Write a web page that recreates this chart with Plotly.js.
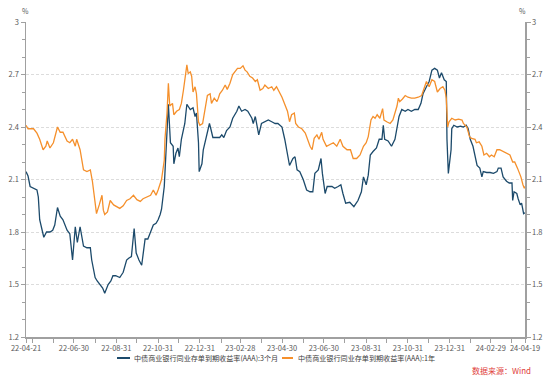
<!DOCTYPE html>
<html><head><meta charset="utf-8">
<script src="https://cdn.plot.ly/plotly-3.0.1.min.js"></script>
<style>html,body{margin:0;padding:0;background:#fff;}#chart{width:550px;height:383px;}</style>
</head><body><div id="chart"></div>
<script>
const seriesNames = ["中债商业银行同业存单到期收益率(AAA):3个月", "中债商业银行同业存单到期收益率(AAA):1年"];
const sourceText = "数据来源：Wind";
const unitText = "%";

const dates3m = ["2022-04-21","2022-04-24","2022-04-27","2022-05-01","2022-05-07","2022-05-09","2022-05-11","2022-05-14","2022-05-17","2022-05-21","2022-05-26","2022-05-30","2022-06-02","2022-06-06","2022-06-10","2022-06-14","2022-06-20","2022-06-24","2022-06-28","2022-07-02","2022-07-05","2022-07-09","2022-07-14","2022-07-19","2022-07-24","2022-07-26","2022-07-31","2022-08-03","2022-08-07","2022-08-11","2022-08-14","2022-08-19","2022-08-23","2022-08-26","2022-08-30","2022-09-05","2022-09-10","2022-09-15","2022-09-18","2022-09-22","2022-09-26","2022-09-29","2022-10-03","2022-10-07","2022-10-12","2022-10-16","2022-10-19","2022-10-24","2022-10-28","2022-10-31","2022-11-03","2022-11-05","2022-11-09","2022-11-13","2022-11-15","2022-11-18","2022-11-22","2022-11-23","2022-11-26","2022-11-29","2022-12-01","2022-12-04","2022-12-09","2022-12-12","2022-12-17","2022-12-21","2022-12-24","2022-12-26","2022-12-29","2022-12-30","2023-01-03","2023-01-05","2023-01-10","2023-01-14","2023-01-16","2023-01-19","2023-01-25","2023-01-29","2023-02-01","2023-02-04","2023-02-08","2023-02-13","2023-02-17","2023-02-23","2023-02-26","2023-03-02","2023-03-07","2023-03-11","2023-03-17","2023-03-19","2023-03-22","2023-03-24","2023-03-27","2023-03-31","2023-04-05","2023-04-10","2023-04-15","2023-04-20","2023-04-24","2023-04-30","2023-05-04","2023-05-08","2023-05-11","2023-05-16","2023-05-19","2023-05-22","2023-05-26","2023-05-31","2023-06-05","2023-06-10","2023-06-14","2023-06-17","2023-06-22","2023-06-26","2023-06-28","2023-07-02","2023-07-05","2023-07-12","2023-07-16","2023-07-21","2023-07-25","2023-07-28","2023-08-01","2023-08-07","2023-08-13","2023-08-19","2023-08-24","2023-08-27","2023-08-31","2023-09-03","2023-09-06","2023-09-10","2023-09-15","2023-09-19","2023-09-23","2023-09-25","2023-09-27","2023-10-02","2023-10-07","2023-10-12","2023-10-15","2023-10-18","2023-10-22","2023-10-27","2023-10-31","2023-11-05","2023-11-10","2023-11-15","2023-11-19","2023-11-22","2023-11-27","2023-12-01","2023-12-05","2023-12-09","2023-12-13","2023-12-16","2023-12-19","2023-12-23","2023-12-26","2023-12-27","2023-12-29","2024-01-02","2024-01-03","2024-01-06","2024-01-11","2024-01-16","2024-01-20","2024-01-24","2024-01-27","2024-01-30","2024-02-03","2024-02-06","2024-02-09","2024-02-13","2024-02-16","2024-02-18","2024-02-23","2024-02-28","2024-03-04","2024-03-09","2024-03-11","2024-03-15","2024-03-18","2024-03-23","2024-03-27","2024-03-31","2024-04-01","2024-04-03","2024-04-07","2024-04-09","2024-04-12","2024-04-14","2024-04-17","2024-04-19"];
const rate3m = [2.145,2.12,2.06,2.05,2.04,2.00,1.87,1.82,1.77,1.80,1.80,1.81,1.84,1.94,1.89,1.87,1.81,1.79,1.64,1.83,1.74,1.83,1.72,1.71,1.71,1.64,1.54,1.52,1.50,1.48,1.45,1.50,1.52,1.55,1.55,1.54,1.57,1.64,1.65,1.66,1.82,1.68,1.64,1.61,1.76,1.76,1.79,1.84,1.85,1.87,1.90,1.93,2.06,2.34,2.53,2.31,2.29,2.19,2.25,2.28,2.23,2.33,2.42,2.53,2.50,2.51,2.46,2.48,2.31,2.145,2.19,2.27,2.345,2.42,2.39,2.34,2.34,2.34,2.355,2.34,2.38,2.40,2.45,2.49,2.52,2.49,2.50,2.49,2.45,2.42,2.46,2.42,2.355,2.42,2.43,2.44,2.43,2.42,2.42,2.40,2.33,2.25,2.18,2.22,2.23,2.155,2.145,2.10,2.04,2.03,2.03,2.135,2.155,2.22,2.135,2.02,2.06,2.06,2.05,2.06,2.07,2.02,1.965,1.97,1.945,1.98,2.03,2.115,2.07,2.125,2.24,2.26,2.28,2.33,2.33,2.41,2.33,2.32,2.29,2.33,2.40,2.46,2.50,2.49,2.50,2.49,2.50,2.50,2.535,2.59,2.63,2.66,2.725,2.735,2.725,2.68,2.71,2.67,2.66,2.33,2.135,2.27,2.39,2.41,2.40,2.405,2.40,2.41,2.39,2.33,2.29,2.23,2.18,2.165,2.115,2.145,2.14,2.14,2.135,2.145,2.165,2.165,2.115,2.09,2.08,2.08,1.98,2.03,2.02,1.99,1.955,1.965,1.905,1.91];

const dates1y = ["2022-04-21","2022-04-24","2022-05-02","2022-05-07","2022-05-11","2022-05-16","2022-05-20","2022-05-22","2022-05-26","2022-05-31","2022-06-06","2022-06-10","2022-06-14","2022-06-20","2022-06-24","2022-06-28","2022-07-02","2022-07-04","2022-07-09","2022-07-14","2022-07-19","2022-07-24","2022-07-27","2022-07-31","2022-08-02","2022-08-06","2022-08-10","2022-08-12","2022-08-14","2022-08-18","2022-08-22","2022-08-27","2022-08-31","2022-09-05","2022-09-10","2022-09-15","2022-09-20","2022-09-25","2022-09-30","2022-10-05","2022-10-09","2022-10-14","2022-10-20","2022-10-24","2022-10-28","2022-10-31","2022-11-05","2022-11-09","2022-11-10","2022-11-13","2022-11-15","2022-11-17","2022-11-21","2022-11-23","2022-11-27","2022-12-01","2022-12-04","2022-12-07","2022-12-09","2022-12-12","2022-12-14","2022-12-17","2022-12-19","2022-12-21","2022-12-24","2022-12-26","2022-12-29","2022-12-31","2023-01-04","2023-01-08","2023-01-11","2023-01-15","2023-01-17","2023-01-21","2023-01-25","2023-01-27","2023-01-29","2023-02-02","2023-02-06","2023-02-09","2023-02-13","2023-02-17","2023-02-20","2023-02-24","2023-02-28","2023-03-04","2023-03-07","2023-03-10","2023-03-14","2023-03-18","2023-03-22","2023-03-25","2023-03-29","2023-04-02","2023-04-05","2023-04-10","2023-04-15","2023-04-18","2023-04-22","2023-04-26","2023-04-30","2023-05-04","2023-05-08","2023-05-11","2023-05-14","2023-05-18","2023-05-20","2023-05-24","2023-05-29","2023-06-03","2023-06-06","2023-06-10","2023-06-13","2023-06-16","2023-06-20","2023-06-23","2023-06-27","2023-06-29","2023-07-04","2023-07-09","2023-07-14","2023-07-19","2023-07-24","2023-07-28","2023-08-03","2023-08-08","2023-08-12","2023-08-17","2023-08-22","2023-08-27","2023-08-31","2023-09-03","2023-09-07","2023-09-10","2023-09-13","2023-09-16","2023-09-20","2023-09-24","2023-09-26","2023-09-30","2023-10-05","2023-10-09","2023-10-12","2023-10-15","2023-10-17","2023-10-19","2023-10-23","2023-10-27","2023-10-31","2023-11-05","2023-11-10","2023-11-15","2023-11-20","2023-11-23","2023-11-27","2023-12-01","2023-12-05","2023-12-09","2023-12-13","2023-12-17","2023-12-21","2023-12-24","2023-12-26","2023-12-28","2023-12-30","2024-01-03","2024-01-08","2024-01-13","2024-01-18","2024-01-20","2024-01-25","2024-01-29","2024-02-01","2024-02-06","2024-02-08","2024-02-12","2024-02-16","2024-02-19","2024-02-23","2024-02-27","2024-03-01","2024-03-05","2024-03-09","2024-03-13","2024-03-18","2024-03-23","2024-03-28","2024-04-01","2024-04-04","2024-04-08","2024-04-11","2024-04-13","2024-04-16","2024-04-18","2024-04-19"];
const rate1y = [2.41,2.39,2.39,2.365,2.33,2.27,2.29,2.32,2.28,2.31,2.40,2.37,2.37,2.32,2.31,2.33,2.29,2.33,2.27,2.155,2.145,2.155,2.09,1.98,1.905,1.955,2.01,1.925,1.90,1.915,1.98,1.955,1.945,1.935,1.95,1.98,1.99,2.01,1.985,1.975,1.99,2.00,2.01,2.04,2.01,2.04,2.10,2.21,2.33,2.48,2.65,2.52,2.535,2.47,2.49,2.50,2.535,2.61,2.67,2.755,2.705,2.715,2.69,2.60,2.63,2.59,2.43,2.41,2.42,2.52,2.58,2.59,2.535,2.565,2.545,2.565,2.59,2.61,2.64,2.615,2.65,2.70,2.715,2.735,2.735,2.75,2.725,2.715,2.69,2.68,2.66,2.67,2.61,2.62,2.64,2.62,2.63,2.61,2.63,2.60,2.57,2.53,2.49,2.43,2.47,2.48,2.42,2.40,2.39,2.365,2.33,2.29,2.27,2.335,2.355,2.33,2.37,2.33,2.29,2.30,2.31,2.29,2.33,2.29,2.27,2.27,2.22,2.22,2.24,2.29,2.31,2.345,2.44,2.46,2.45,2.47,2.45,2.505,2.44,2.43,2.42,2.44,2.48,2.52,2.565,2.545,2.56,2.58,2.57,2.565,2.565,2.57,2.58,2.62,2.66,2.63,2.67,2.66,2.60,2.62,2.63,2.61,2.565,2.40,2.43,2.45,2.44,2.445,2.44,2.42,2.40,2.345,2.335,2.33,2.31,2.315,2.29,2.24,2.25,2.23,2.24,2.23,2.27,2.27,2.26,2.25,2.24,2.20,2.20,2.165,2.135,2.115,2.07,2.05,2.06];

const xTickVals = ["2022-04-21","2022-04-30","2022-05-31","2022-06-30","2022-07-31","2022-08-31","2022-09-30","2022-10-31","2022-11-30","2022-12-31","2023-01-31","2023-02-28","2023-03-31","2023-04-30","2023-05-31","2023-06-30","2023-07-31","2023-08-31","2023-09-30","2023-10-31","2023-11-30","2023-12-31","2024-01-31","2024-02-29","2024-03-31","2024-04-19"];
const xTickText = ["22-04-21","","","22-06-30","","22-08-31","","22-10-31","","22-12-31","","23-02-28","","23-04-30","","23-06-30","","23-08-31","","23-10-31","","23-12-31","","24-02-29","","24-04-19"];
const yTickVals = [1.2,1.5,1.8,2.1,2.4,2.7,3];
const yTickText = ["1.2","1.5","1.8","2.1","2.4","2.7","3"];
const xRange = ["2022-04-21","2024-04-19"];
const yRange = [1.2,3];

const colors = ["#1c4a6b","#f5902c"];
const tickFont = {family:"'Noto Sans CJK SC', 'Noto Sans', sans-serif", size:7.5, color:"#595959"};
const axisColor = "#a0a0a0";

const traces = [
  {x:dates3m, y:rate3m, type:"scatter", mode:"lines", name:seriesNames[0], line:{color:colors[0], width:1.3}, yaxis:"y"},
  {x:dates1y, y:rate1y, type:"scatter", mode:"lines", name:seriesNames[1], line:{color:colors[1], width:1.3}, yaxis:"y2"}
];

const yCommon = {
  range:yRange, tickmode:"array", tickvals:yTickVals, ticktext:yTickText,
  ticks:"outside", ticklen:4, tickcolor:axisColor, tickwidth:1,
  showline:true, linecolor:axisColor, linewidth:1.5,
  tickfont:tickFont, zeroline:false, fixedrange:true, automargin:false,
  minor:{tickmode:"linear", tick0:1.2, dtick:0.1, ticks:"outside", ticklen:3, tickcolor:axisColor, showgrid:false}
};

const layout = {
  width:550, height:383,
  margin:{l:26, r:25, t:22, b:46},
  paper_bgcolor:"#ffffff", plot_bgcolor:"#ffffff",
  showlegend:false,
  font:{family:"'Noto Sans CJK SC', 'Noto Sans', sans-serif", color:"#595959"},
  xaxis:{type:"date", range:xRange, tickmode:"array", tickvals:xTickVals, ticktext:xTickText,
    ticks:"outside", ticklen:4, tickcolor:axisColor, showgrid:false, showline:true, linecolor:axisColor, linewidth:1.5,
    tickfont:tickFont, zeroline:false, automargin:false, fixedrange:true, tickangle:0, ticklabelstandoff:-1},
  yaxis:Object.assign({}, yCommon, {side:"left", showgrid:true, gridcolor:"#dcdcdc", gridwidth:1, griddash:"3px,2px"}),
  yaxis2:Object.assign({}, yCommon, {side:"right", overlaying:"y", anchor:"x", showgrid:false}),
  shapes:[
    {type:"line", xref:"paper", yref:"paper", x0:0.1824, x1:0.2084, y0:-0.0667, y1:-0.0667, line:{color:colors[0], width:2}},
    {type:"line", xref:"paper", yref:"paper", x0:0.5130, x1:0.5351, y0:-0.0667, y1:-0.0667, line:{color:colors[1], width:2}}
  ],
  annotations:[
    {text:seriesNames[0], xref:"paper", yref:"paper", x:0.2124, y:-0.0667, xanchor:"left", yanchor:"middle", showarrow:false, font:{size:7.1, color:"#404040"}},
    {text:seriesNames[1], xref:"paper", yref:"paper", x:0.5411, y:-0.0667, xanchor:"left", yanchor:"middle", showarrow:false, font:{size:7.1, color:"#404040"}},
    {text:sourceText, xref:"paper", yref:"paper", x:1.016, y:-0.1048, xanchor:"right", yanchor:"middle", showarrow:false, font:{size:8, color:"#e0413a"}},
    {text:unitText, xref:"paper", yref:"paper", x:-0.002, y:1.035, xanchor:"center", yanchor:"middle", showarrow:false, font:{size:7, color:"#595959"}},
    {text:unitText, xref:"paper", yref:"paper", x:0.994, y:1.035, xanchor:"center", yanchor:"middle", showarrow:false, font:{size:7, color:"#595959"}}
  ]
};

Plotly.newPlot("chart", traces, layout, {displayModeBar:false, staticPlot:true});
</script>
</body></html>
